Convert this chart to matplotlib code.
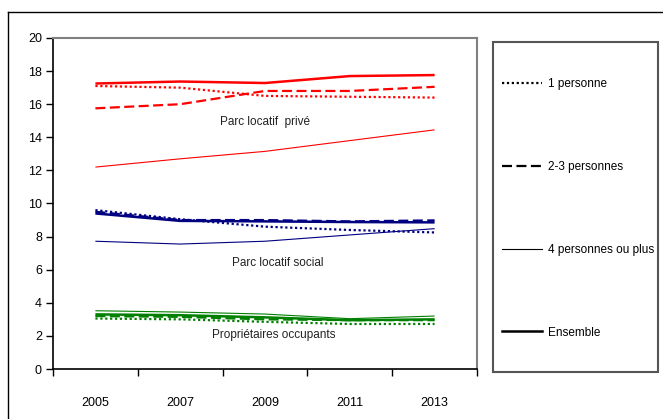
import matplotlib
matplotlib.use("Agg")
from matplotlib import pyplot as plt
from matplotlib.lines import Line2D
import numpy as np

plt.rcParams['font.family'] = ['Liberation Sans', 'DejaVu Sans']
plt.rcParams['font.size'] = 8.5

years = ['2005', '2007', '2009', '2011', '2013']

# Parc locatif privé
prive_1p = [17.1, 17.0, 16.5, 16.45, 16.4]
prive_23p = [15.75, 16.0, 16.8, 16.8, 17.05]
prive_4p = [12.2, 12.7, 13.15, 13.8, 14.45]
prive_ens = [17.25, 17.37, 17.28, 17.7, 17.76]

# Parc locatif social
social_1p = [9.6, 9.05, 8.6, 8.4, 8.25]
social_23p = [9.5, 9.0, 9.0, 8.92, 8.98]
social_4p = [7.72, 7.55, 7.72, 8.1, 8.48]
social_ens = [9.4, 8.95, 8.92, 8.88, 8.86]

# Propriétaires occupants
proprio_1p = [3.05, 3.0, 2.85, 2.72, 2.72]
proprio_23p = [3.2, 3.15, 3.0, 2.95, 2.95]
proprio_4p = [3.52, 3.44, 3.32, 3.04, 3.2]
proprio_ens = [3.3, 3.25, 3.12, 2.95, 3.0]

legend_labels = ['1 personne', '2-3 personnes', '4 personnes ou plus', 'Ensemble']

groups = [
    ('#ff0000', [prive_1p, prive_23p, prive_4p, prive_ens]),
    ('#000080', [social_1p, social_23p, social_4p, social_ens]),
    ('#008000', [proprio_1p, proprio_23p, proprio_4p, proprio_ens]),
]

styles = [
    dict(lw=1.6, dashes=(1.0, 1.2)),
    dict(lw=1.6, dashes=(4.5, 2.0)),
    dict(lw=0.8, linestyle='-'),
    dict(lw=1.8, linestyle='-'),
]

W, H = 663, 419
fig = plt.figure(figsize=(W / 100, H / 100), dpi=100)
ax = fig.add_axes([53 / W, 1 - 369 / H, 424 / W, 331 / H])

x = np.arange(len(years))
for color, series in groups:
    for vals, st in zip(series, styles):
        ax.plot(x, vals, color=color, solid_capstyle='butt',
                dash_capstyle='butt', **st)

ax.set_xlim(-0.5, len(years) - 0.5)
ax.set_ylim(0, 20)
ax.set_yticks(range(0, 21, 2))
ax.set_xticks(np.arange(-0.5, len(years), 1.0))
ax.set_xticklabels([])
ax.set_xticks(x, minor=True)
ax.set_xticklabels(years, minor=True)
ax.tick_params(axis='x', which='minor', length=0, pad=20, labelsize=9)
ax.tick_params(axis='x', which='major', direction='out', length=5, width=1)
ax.tick_params(axis='y', direction='out', length=5, width=1, pad=3, labelsize=9)

for side in ['top', 'right']:
    ax.spines[side].set_color('#808080')
    ax.spines[side].set_linewidth(1.5)
for side in ['left', 'bottom']:
    ax.spines[side].set_linewidth(1.2)

ax.text(2.0, 14.9, 'Parc locatif  privé', ha='center', va='center', color='#222222')
ax.text(2.15, 6.4, 'Parc locatif social', ha='center', va='center', color='#222222')
ax.text(2.1, 2.05, 'Propriétaires occupants', ha='center', va='center', color='#222222')

# outer frame (cut off on right and bottom)
fig.add_artist(Line2D([8 / W, 1], [1 - 12 / H, 1 - 12 / H], color='black', lw=1.0))
fig.add_artist(Line2D([8 / W, 8 / W], [0, 1 - 12 / H], color='black', lw=1.0))

# legend box
fig.add_artist(plt.Rectangle((493 / W, 1 - 372 / H), 165 / W, 330 / H,
                             fill=False, edgecolor='#555555', lw=1.5))

handles = [Line2D([], [], color='black', **st) for st in styles]
fig.legend(handles, legend_labels, loc='upper left',
           bbox_to_anchor=(502 / W, 1 - 78 / H), frameon=False,
           borderpad=0, borderaxespad=0, handlelength=3.4,
           handletextpad=0.5, labelspacing=6.0)

fig.savefig('out.png', dpi=100)
